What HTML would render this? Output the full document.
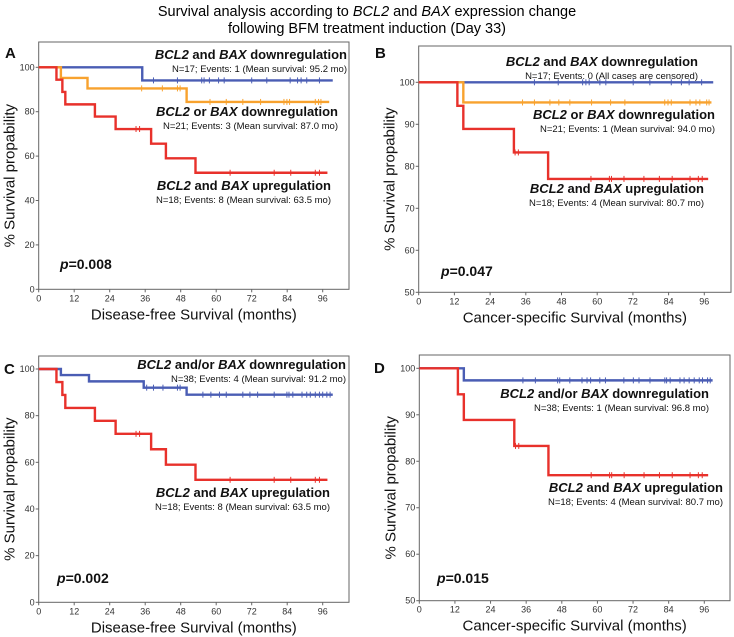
<!DOCTYPE html>
<html><head><meta charset="utf-8"><style>
body{margin:0;background:#fff;}
svg{display:block;font-family:"Liberation Sans",Arial,sans-serif;}
.tk{font-size:9px;fill:#333;}
.lb{font-size:13px;font-weight:bold;fill:#111;}
.sb{font-size:9.5px;fill:#111;}
.ax{font-size:15px;fill:#111;}
.pl{font-size:15px;font-weight:bold;fill:#111;}
.pv{font-size:14px;font-weight:bold;fill:#111;}
</style></head><body>
<svg id="fig" width="734" height="637" viewBox="0 0 734 637">
<text x="367" y="16" text-anchor="middle" font-size="14.5">Survival analysis according to <tspan font-style="italic">BCL2</tspan> and <tspan font-style="italic">BAX</tspan> expression change</text>
<text x="367" y="33" text-anchor="middle" font-size="14.5">following BFM treatment induction (Day 33)</text>
</svg>
<script>
// Panel A data (Disease-free survival)
const aBlueSteps=[[0,100],[35,94.1]];
const aBlueCens=[38.8,46.9,55.1,55.9,57.7,60.8,62.7,72,77.1,85,87.5,88.7,90.6,94.9];
const aBlueEnd=99.4;
const aOrangeSteps=[[0,100],[7.5,95.2],[16.5,90.5],[50,84.4]];
const aOrangeCens=[34.8,41.8,46.9,47.8,57.9,63.4,69,75,82.9,83.9,84.8,93.5,94.6,95.4];
const aOrangeEnd=98.2;
const redDfsSteps=[[0,100],[6,94.4],[8,88.9],[9,83.3],[19,77.8],[26,72.2],[38,65.6],[43,59],[53,52.5]];
const redDfsCens=[32.9,34.1,64.7,79.6,85.2,93.5,94.9];
const redDfsEnd=97.6;
// Panel B data (Cancer-specific survival)
const bBlueSteps=[[0,100]];
const bBlueCens=[38.9,46.9,55.1,56.2,57.3,60.9,62.9,72.1,77.7,84.9,88.3,90.9,95.1];
const bBlueEnd=99;
const bOrangeSteps=[[0,100],[15,95.2]];
const bOrangeCens=[34.9,38.9,44.1,47.1,50.8,58.1,64.5,69.3,82.7,83.8,84.9,91.2,93.2,94.5,96.8,97.6];
const bOrangeEnd=98.4;
const redCssSteps=[[0,100],[13,94.4],[15,88.9],[32,83.3],[43.5,77]];
const redCssCens=[32.4,33.5,57.9,64.1,64.8,69,75.7,80.9,85.2,91.2,94,95.3];
const redCssEnd=97.3;
// Panel C
const cBlueSteps=[[0,100],[7.5,97.4],[17,94.7],[35.5,92],[50,89]];
const cBlueCens=[36.5,38.8,42,46.9,47.8,55.5,58.2,61.1,63.4,69,71.4,74,79.6,83.9,84.6,85.9,89,90.6,91.8,93.5,94.9,96,97.4,98.5];
const cBlueEnd=99.4;
// Panel D
const dBlueSteps=[[0,100],[15,97.4]];
const dBlueCens=[34.9,39.1,46.6,47.3,50.7,54.8,56.5,57.7,60.8,62.7,68.9,72.1,74,77.7,82.7,83.3,84.5,87.8,89.2,90.9,92.6,94.3,95.4,97.1,98];
const dBlueEnd=98.8;
const xTicks=[0,12,24,36,48,60,72,84,96];
const yTicksFull=[0,20,40,60,80,100];
const yTicksHalf=[50,60,70,80,90,100];

const BLUE="#4a5db4",ORANGE="#f8a22e",RED="#e8312b";
const svg=document.getElementById('fig');
const NS="http://www.w3.org/2000/svg";
function mk(tag,attrs,parent){const e=document.createElementNS(NS,tag);for(const k in attrs)e.setAttribute(k,attrs[k]);(parent||svg).appendChild(e);return e;}

function panel(p){
  const g=mk('g',{});
  
  
  const sx=t=>p.x0+(p.x96-p.x0)*t/96;
  const sy=v=>p.yTop+(p.yBot-p.yTop)*(p.yMax-v)/(p.yMax-p.yMin);
  const box=mk('rect',{x:p.x0,y:p.boxTop,width:p.boxRight-p.x0,height:p.yBot-p.boxTop,fill:'none',stroke:'#666','stroke-width':1},g);
  
  
  xTicks.forEach(t=>{
    mk('line',{x1:sx(t),x2:sx(t),y1:p.yBot,y2:p.yBot+3,stroke:'#666'},g);
    const tx=mk('text',{x:sx(t),y:p.yBot+12,'text-anchor':'middle',class:'tk'},g);tx.textContent=t;
    
    
  });
  p.yTicks.forEach(v=>{
    mk('line',{x1:p.x0-3,x2:p.x0,y1:sy(v),y2:sy(v),stroke:'#666'},g);
    const ty=mk('text',{x:p.x0-4,y:sy(v)+3,'text-anchor':'end',class:'tk'},g);ty.textContent=v;
    
    
  });
  p.series.forEach(s=>{
    let d='M'+sx(0)+','+sy(s.steps[0][1]);
    for(let i=1;i<s.steps.length;i++){d+=' H'+sx(s.steps[i][0])+' V'+sy(s.steps[i][1]);}
    d+=' H'+sx(s.end);
    const path=mk('path',{d:d,fill:'none',stroke:s.color,'stroke-width':2.4},g);
    
    
    s.cens.forEach(t=>{
      let v=s.steps[0][1];s.steps.forEach(st=>{if(st[0]<=t)v=st[1];});
      const c=mk('line',{x1:sx(t),x2:sx(t),y1:sy(v)-3,y2:sy(v)+3,stroke:s.color,'stroke-width':1},g);
      
      
    });
  });
  const L=mk('text',{x:p.letX,y:p.letY,class:'pl'},g);L.textContent=p.letter;
  
  
  const yt=mk('text',{x:0,y:0,class:'ax','text-anchor':'middle',transform:`translate(${p.x0-24},${(p.boxTop+p.yBot)/2+10}) rotate(-90)`},g);yt.textContent='% Survival propability';
  
  
  const xt=mk('text',{x:(p.x0+p.boxRight)/2,y:p.yBot+30,class:'ax','text-anchor':'middle'},g);xt.textContent=p.xTitle;
  
  
  const pv=mk('text',{x:p.pX,y:p.pY,class:'pv'},g);pv.innerHTML='<tspan font-style="italic">p</tspan>='+p.p;
  
  
  p.labels.forEach(l=>{
    const t1=mk('text',{x:l.x,y:l.y,class:'lb','text-anchor':'end'},g);t1.innerHTML=l.t;
    
    
    const t2=mk('text',{x:l.x,y:l.y+13,class:'sb','text-anchor':'end'},g);t2.textContent=l.s;
    
    
  });
}
const I=s=>`<tspan font-style="italic">${s}</tspan>`;
panel({name:'panel-a',letter:'A',letX:5,letY:58,x0:38.7,x96:322.7,boxRight:349,boxTop:42,yTop:67.3,yBot:289.3,yMax:100,yMin:0,yTicks:yTicksFull,
 xTitle:'Disease-free Survival (months)',p:'0.008',pX:60,pY:269,
 series:[{nm:'blue',color:BLUE,steps:aBlueSteps,cens:aBlueCens,end:aBlueEnd},{nm:'orange',color:ORANGE,steps:aOrangeSteps,cens:aOrangeCens,end:aOrangeEnd},{nm:'red',color:RED,steps:redDfsSteps,cens:redDfsCens,end:redDfsEnd}],
 labels:[{x:347,y:59,t:I('BCL2')+' and '+I('BAX')+' downregulation',s:'N=17; Events: 1 (Mean survival: 95.2 mo)'},
 {x:338,y:116,t:I('BCL2')+' or '+I('BAX')+' downregulation',s:'N=21; Events: 3 (Mean survival: 87.0 mo)'},
 {x:331,y:190,t:I('BCL2')+' and '+I('BAX')+' upregulation',s:'N=18; Events: 8 (Mean survival: 63.5 mo)'}]});
panel({name:'panel-b',letter:'B',letX:375,letY:58,x0:418.7,x96:704.3,boxRight:731,boxTop:46,yTop:82.3,yBot:292.3,yMax:100,yMin:50,yTicks:yTicksHalf,
 xTitle:'Cancer-specific Survival (months)',p:'0.047',pX:441,pY:276,
 series:[{nm:'blue',color:BLUE,steps:bBlueSteps,cens:bBlueCens,end:bBlueEnd},{nm:'orange',color:ORANGE,steps:bOrangeSteps,cens:bOrangeCens,end:bOrangeEnd},{nm:'red',color:RED,steps:redCssSteps,cens:redCssCens,end:redCssEnd}],
 labels:[{x:698,y:66,t:I('BCL2')+' and '+I('BAX')+' downregulation',s:'N=17; Events: 0 (All cases are censored)'},
 {x:715,y:119,t:I('BCL2')+' or '+I('BAX')+' downregulation',s:'N=21; Events: 1 (Mean survival: 94.0 mo)'},
 {x:704,y:193,t:I('BCL2')+' and '+I('BAX')+' upregulation',s:'N=18; Events: 4 (Mean survival: 80.7 mo)'}]});
panel({name:'panel-c',letter:'C',letX:4,letY:374,x0:38.7,x96:322.7,boxRight:349,boxTop:356,yTop:369,yBot:602.3,yMax:100,yMin:0,yTicks:yTicksFull,
 xTitle:'Disease-free Survival (months)',p:'0.002',pX:57,pY:583,
 series:[{nm:'blue',color:BLUE,steps:cBlueSteps,cens:cBlueCens,end:cBlueEnd},{nm:'red',color:RED,steps:redDfsSteps,cens:redDfsCens,end:redDfsEnd}],
 labels:[{x:346,y:369,t:I('BCL2')+' and/or '+I('BAX')+' downregulation',s:'N=38; Events: 4 (Mean survival: 91.2 mo)'},
 {x:330,y:497,t:I('BCL2')+' and '+I('BAX')+' upregulation',s:'N=18; Events: 8 (Mean survival: 63.5 mo)'}]});
panel({name:'panel-d',letter:'D',letX:374,letY:373,x0:419.3,x96:704.3,boxRight:730,boxTop:355,yTop:368.3,yBot:600.7,yMax:100,yMin:50,yTicks:yTicksHalf,
 xTitle:'Cancer-specific Survival (months)',p:'0.015',pX:437,pY:583,
 series:[{nm:'blue',color:BLUE,steps:dBlueSteps,cens:dBlueCens,end:dBlueEnd},{nm:'red',color:RED,steps:redCssSteps,cens:redCssCens,end:redCssEnd}],
 labels:[{x:709,y:398,t:I('BCL2')+' and/or '+I('BAX')+' downregulation',s:'N=38; Events: 1 (Mean survival: 96.8 mo)'},
 {x:723,y:492,t:I('BCL2')+' and '+I('BAX')+' upregulation',s:'N=18; Events: 4 (Mean survival: 80.7 mo)'}]});
</script>
</body></html>
